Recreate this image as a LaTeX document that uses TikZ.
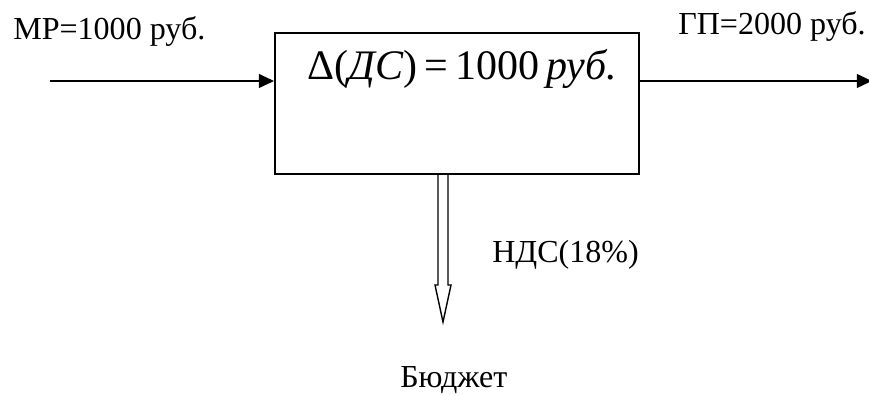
\documentclass[tikz,border=0pt]{standalone}
\usepackage{fontspec}
\setmainfont{Liberation Serif}
\usetikzlibrary{arrows.meta}
\usetikzlibrary{calc}

\begin{document}
\begin{tikzpicture}[
            flow/.style={color=black, line width=0.6mm, -{Triangle[length=0.38cm, width=0.34cm]}},
            hollow/.style={color=black, line width=0.35mm, line join=miter},
            cashbox/.style={draw=black, line width=0.45mm, minimum width=9.1cm, minimum height=3.525cm, inner sep=0},
            flowlabel/.style={anchor=base west, inner sep=0, font=\fontsize{22.8}{27}\selectfont},
            boxlabel/.style={anchor=base west, inner sep=0, font=\fontsize{29.9}{34}\selectfont}
        ]
            \useasboundingbox (0, 0) rectangle (21.725, 9.9);

            % box
            \node[cashbox] (ds) at (11.425, 7.3125) {};
            \node[boxlabel] (dstext) at (7.675, 7.9) {Δ(\textit{ДС})\,=\,1000\,\textit{руб.}};

            % flows in and out
            \coordinate (in) at (1.25, 7.875);
            \coordinate (out) at (21.8, 7.875);
            \draw[flow] (in) -- (in -| ds.west);
            \draw[flow] (ds.east |- out) -- (out);

            % payment to the budget
            \coordinate (tip) at (11.075, 1.85);
            \coordinate (top) at (tip |- ds.south);
            \draw[hollow] ($(top)+(-0.125,0)$) -- ($(tip)+(-0.125,0.925)$) -- ($(tip)+(-0.2,0.925)$)
                -- (tip) -- ($(tip)+(0.2,0.925)$) -- ($(tip)+(0.125,0.925)$) -- ($(top)+(0.125,0)$);

            % labels
            \node[flowlabel] (mr) at (0.325, 8.9) {МР=1000 руб.};
            \node[flowlabel] (gp) at (16.95, 9.025) {ГП=2000 руб.};
            \node[flowlabel] (nds) at (12.3, 3.325) {НДС(18\%)};
            \node[flowlabel] (budget) at (10.0, 0.22) {Бюджет};

        \end{tikzpicture}
\end{document}
